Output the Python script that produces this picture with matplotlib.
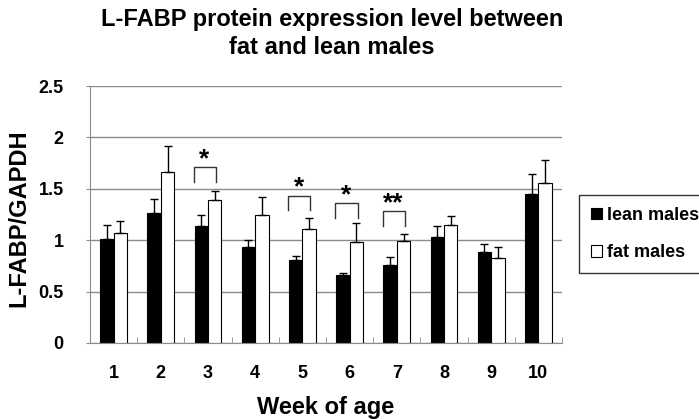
import matplotlib
matplotlib.use("Agg")
import matplotlib.pyplot as plt
import numpy as np

plt.rcParams['font.family'] = ['Liberation Sans', 'DejaVu Sans']
plt.rcParams['font.weight'] = 'bold'

weeks = ['1', '2', '3', '4', '5', '6', '7', '8', '9', '10']
lean = [1.01, 1.26, 1.14, 0.93, 0.81, 0.66, 0.76, 1.03, 0.89, 1.45]
lean_err = [0.14, 0.14, 0.11, 0.07, 0.04, 0.02, 0.08, 0.11, 0.07, 0.19]
fat = [1.07, 1.66, 1.39, 1.25, 1.11, 0.98, 0.99, 1.15, 0.83, 1.56]
fat_err = [0.12, 0.26, 0.09, 0.17, 0.11, 0.19, 0.07, 0.09, 0.10, 0.22]

# significance marks: (week index, label, bracket top value)
sig = [(2, '*', 1.71), (4, '*', 1.43), (5, '*', 1.36), (6, '**', 1.28)]

fig = plt.figure(figsize=(6.99, 4.19), dpi=100)
ax = fig.add_axes([0.1288, 0.1814, 0.6752, 0.6133])

x = np.arange(len(weeks))
w = 0.285
grey = '#8c8c8c'

ax.set_axisbelow(True)
ax.yaxis.grid(True, color=grey, linewidth=1)
ax.bar(x - w / 2, lean, w, color='black', edgecolor='black', linewidth=0.8,
       yerr=[np.zeros(len(lean)), lean_err], capsize=3,
       error_kw=dict(ecolor='black', elinewidth=1, capthick=1), label='lean males')
ax.bar(x + w / 2, fat, w, color='white', edgecolor='black', linewidth=0.8,
       yerr=[np.zeros(len(fat)), fat_err], capsize=3,
       error_kw=dict(ecolor='black', elinewidth=1, capthick=1), label='fat males')

for i, lab, top in sig:
    ax.plot([i - 0.30, i - 0.30, i + 0.17, i + 0.17],
            [top - 0.14, top, top, top - 0.14], color='#333333', linewidth=1)
    ax.text(i - 0.08, top + 0.08, lab, ha='center', va='center',
            fontsize=19, fontweight='bold')

ax.set_xlim(-0.5, len(weeks) - 0.5)
ax.set_ylim(0, 2.5)
ax.set_yticks([0, 0.5, 1, 1.5, 2, 2.5])
ax.set_yticklabels(['0', '0.5', '1', '1.5', '2', '2.5'])
ax.set_xticks(x)
ax.set_xticklabels(weeks)
ax.set_xticks(np.arange(-0.5, len(weeks)), minor=True)
ax.tick_params(axis='x', which='major', length=0, pad=16, labelsize=13)
ax.tick_params(axis='x', which='minor', direction='in', length=4, color=grey)
ax.tick_params(axis='y', length=3, color=grey, pad=16, labelsize=13)

for s in ['top', 'right']:
    ax.spines[s].set_visible(False)
ax.spines['left'].set_color(grey)
ax.spines['bottom'].set_color(grey)

ax.set_ylabel('L-FABP/GAPDH', fontsize=17, fontweight='bold')
ax.yaxis.set_label_coords(-0.127, 0.485)
ax.set_xlabel('Week of age', fontsize=17, fontweight='bold', labelpad=10)
ax.set_title('L-FABP protein expression level between\nfat and lean males',
             fontsize=17, fontweight='bold', pad=23, x=0.513, linespacing=1.3)

leg = ax.legend(loc='upper left', bbox_to_anchor=(1.036, 0.576), frameon=True,
                fancybox=False, edgecolor='black', fontsize=13,
                handlelength=0.6, handleheight=0.6, handletextpad=0.3,
                borderpad=0.65, labelspacing=1.15, borderaxespad=0)
leg.get_frame().set_linewidth(1)

fig.savefig('out.png', dpi=100)
